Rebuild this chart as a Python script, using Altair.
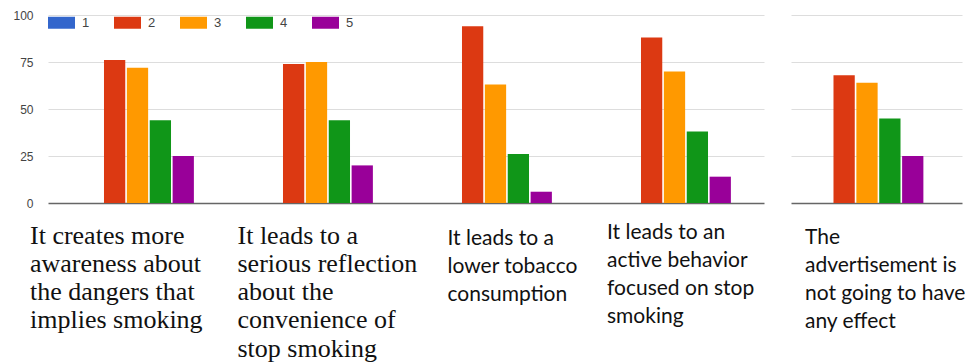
import altair as alt
import pandas as pd

# ---------------- data ----------------
categories = [
    "It creates more awareness about the dangers that implies smoking",
    "It leads to a serious reflection about the convenience of stop smoking",
    "It leads to a lower tobacco consumption",
    "It leads to an active behavior focused on stop smoking",
    "The advertisement is not going to have any effect",
]
label_lines = [
    ["It creates more", "awareness about", "the dangers that", "implies smoking"],
    ["It leads to a", "serious reflection", "about the", "convenience of", "stop smoking"],
    ["It leads to a", "lower tobacco", "consumption"],
    ["It leads to an", "active behavior", "focused on stop", "smoking"],
    ["The", "advertisement is", "not going to have", "any effect"],
]
series = ["1", "2", "3", "4", "5"]
values_1 = [0, 0, 0, 0, 0]
values_2 = [76, 74, 94, 88, 68]
values_3 = [72, 75, 63, 70, 64]
values_4 = [44, 44, 26, 38, 45]
values_5 = [25, 20, 6, 14, 25]
y_ticks = [0, 25, 50, 75, 100]
colors = ["#3366cc", "#dc3912", "#ff9900", "#109618", "#990099"]

rows = []
for s, vals in zip(series, [values_1, values_2, values_3, values_4, values_5]):
    for c, v in zip(categories, vals):
        rows.append({"category": c, "series": s, "value": v})
df = pd.DataFrame(rows)
left_cats = categories[:4]
right_cats = categories[4:]
df_left = df[df.category.isin(left_cats)]
df_right = df[df.category.isin(right_cats)]


def js(s):
    return '"' + s.replace('"', '\\"') + '"'


def label_expr(cats):
    expr = "datum.label"
    for c in reversed(cats):
        lines = label_lines[categories.index(c)]
        arr = "[" + ",".join(js(l) for l in lines) + "]"
        expr = f"datum.value == {js(c)} ? {arr} : ({expr})"
    return expr


def cond(pairs, default):
    return {
        "condition": [{"test": f"datum.value == {js(c)}", "value": v} for c, v in pairs],
        "value": default,
    }


SERIF = "Liberation Serif"
NARROW = "Lato"
SANS = "Liberation Sans"

grid_color = {"condition": {"test": "datum.value == 0", "value": "#666666"}, "value": "#dddddd"}
grid_width = {"condition": {"test": "datum.value == 0", "value": 1.6}, "value": 1.2}


def color_enc(show_legend):
    legend = None
    if show_legend:
        legend = alt.Legend(
            title=None, orient="none", legendX=0, legendY=-6, direction="horizontal",
            symbolType="M-1,-0.444L1,-0.444L1,0.444L-1,0.444Z", symbolSize=729,
            symbolStrokeWidth=0, symbolOpacity=1, labelFont=SANS, labelFontSize=13,
            labelColor="#444444", labelOffset=7, columnPadding=24, padding=0,
        )
    return alt.Color("series:N", scale=alt.Scale(domain=series, range=colors), legend=legend)


left = alt.Chart(df_left).mark_bar().encode(
    x=alt.X(
        "category:N", sort=left_cats,
        scale=alt.Scale(paddingInner=0.37, paddingOuter=0.185),
        axis=alt.Axis(
            title=None, labelAngle=0, domain=False, ticks=False, grid=False,
            labelExpr=label_expr(left_cats), labelAlign="left", labelBaseline="top",
            labelOverlap=False, labelLimit=0, labelBound=False, labelFlush=False,
            labelLineHeight=28.3, labelColor="#111111",
            labelFont=cond([(left_cats[0], SERIF), (left_cats[1], SERIF)], NARROW),
            labelFontSize=cond([(left_cats[0], 26), (left_cats[1], 26)], 21),
            labelOffset=cond([(left_cats[0], -107.5), (left_cats[1], -79), (left_cats[2], -48)], -67.5),
            labelPadding=cond([(left_cats[3], 18), (left_cats[2], 24)], 19),
        ),
    ),
    xOffset=alt.XOffset("series:N", sort=series, scale=alt.Scale(paddingInner=0.07)),
    y=alt.Y(
        "value:Q", scale=alt.Scale(domain=[0, 100]),
        axis=alt.Axis(
            values=y_ticks, title=None, domain=False, ticks=False, labelPadding=15,
            minExtent=48, maxExtent=48, labelFont=SANS, labelFontSize=12, labelColor="#444444",
            gridColor=grid_color, gridWidth=grid_width,
        ),
    ),
    color=color_enc(True),
).properties(width=716, height=188)

right = alt.Chart(df_right).mark_bar().encode(
    x=alt.X(
        "category:N", sort=right_cats,
        scale=alt.Scale(paddingInner=0.37, paddingOuter=0.185, align=0.31),
        axis=alt.Axis(
            title=None, labelAngle=0, domain=False, ticks=False, grid=False,
            labelExpr=label_expr(right_cats), labelAlign="left", labelBaseline="top",
            labelOverlap=False, labelLimit=0, labelBound=False, labelFlush=False,
            labelLineHeight=28.3, labelColor="#111111", labelFont=NARROW, labelFontSize=21,
            labelOffset=-59.5, labelPadding=23,
        ),
    ),
    xOffset=alt.XOffset("series:N", sort=series, scale=alt.Scale(paddingInner=0.07)),
    y=alt.Y(
        "value:Q", scale=alt.Scale(domain=[0, 100]),
        axis=alt.Axis(
            values=y_ticks, title=None, domain=False, ticks=False, labels=False,
            minExtent=0, maxExtent=0,
            gridColor=grid_color, gridWidth=grid_width,
        ),
    ),
    color=color_enc(False),
).properties(width=171, height=188)

chart = alt.hconcat(left, right, spacing=27, bounds="flush").properties(
    padding={"left": 0, "top": 9, "right": 0, "bottom": 0},
    background="white",
).configure_view(stroke=None)

chart.save("out.html", embed_options={"renderer": "svg", "actions": False})
